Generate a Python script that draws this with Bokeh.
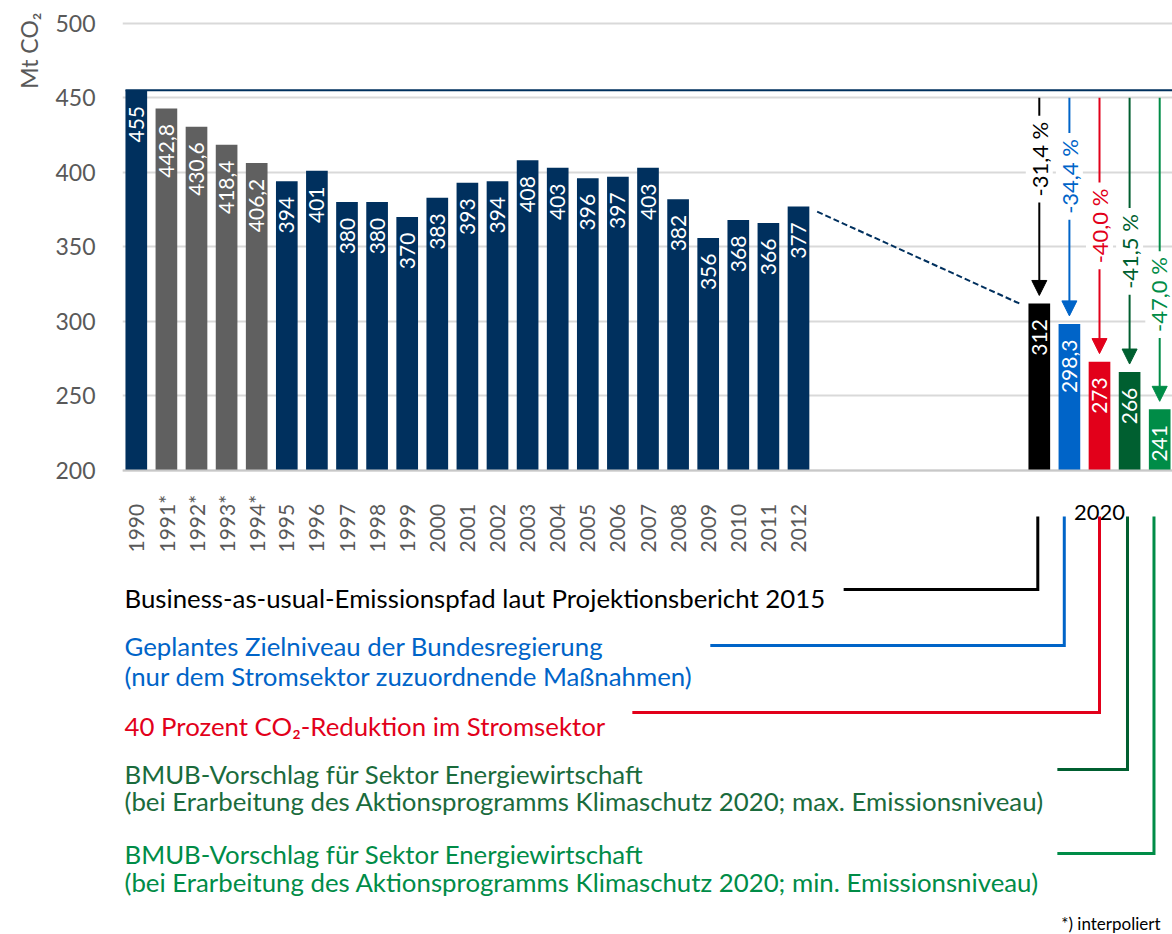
import math
from bokeh.plotting import figure
from bokeh.models import Range1d, FixedTicker, ColumnDataSource, Arrow, NormalHead, Span, Title
from bokeh.core.properties import value
from bokeh.embed import file_html
from bokeh.resources import INLINE

# ---------------- data ----------------
years = ["1990", "1991*", "1992*", "1993*", "1994*", "1995", "1996", "1997", "1998", "1999",
         "2000", "2001", "2002", "2003", "2004", "2005", "2006", "2007", "2008", "2009",
         "2010", "2011", "2012"]
emissions = [455, 442.8, 430.6, 418.4, 406.2, 394, 401, 380, 380, 370,
             383, 393, 394, 408, 403, 396, 397, 403, 382, 356,
             368, 366, 377]
interpolated = [False, True, True, True, True] + [False] * 18

scen_year = "2020"
scen_values = [312, 298.3, 273, 266, 241]
scen_pct = ["-31,4 %", "-34,4 %", "-40,0 %", "-41,5 %", "-47,0 %"]
scen_legend = [
    ["Business-as-usual-Emissionspfad laut Projektionsbericht 2015"],
    ["Geplantes Zielniveau der Bundesregierung", "(nur dem Stromsektor zuzuordnende Maßnahmen)"],
    ["40 Prozent CO₂-Reduktion im Stromsektor"],
    ["BMUB-Vorschlag für Sektor Energiewirtschaft",
     "(bei Erarbeitung des Aktionsprogramms Klimaschutz 2020; max. Emissionsniveau)"],
    ["BMUB-Vorschlag für Sektor Energiewirtschaft",
     "(bei Erarbeitung des Aktionsprogramms Klimaschutz 2020; min. Emissionsniveau)"],
]
y_ticks = [200, 250, 300, 350, 400, 450, 500]
base_value = 455
y_label = "Mt CO₂"
footnote = "*) interpoliert"

# ---------------- styles ----------------
FONT = "Lato"
NAVY = "#00305E"
GREY_BAR = "#606060"
scen_colors = ["#000000", "#0064C8", "#E2001A", "#005F30", "#008C47"]
text_grey = "#595959"

fmt = lambda v: (("%.1f" % v).replace(".", ",") if v != int(v) else str(int(v)))

# ---------------- layout ----------------
W, H = 1172, 934
LEFT = 122
K = 1.491                 # px per Mt
STEP = 30.1               # px per bar slot
FRAME_W = W - LEFT
X_FIRST = 135.8           # page x of first bar centre
x0 = -(X_FIRST - LEFT) / STEP
x_range = Range1d(x0, x0 + FRAME_W / STEP)
y_end = 200 + 470 / K
y_range = Range1d(y_end - H / K, y_end)

p = figure(width=W, height=H, x_range=x_range, y_range=y_range,
           output_backend="svg", toolbar_location=None,
           min_border_left=LEFT, min_border_right=0, min_border_top=0, min_border_bottom=0,
           x_axis_location=None)
p.outline_line_color = None
p.extra_y_ranges = {"lay": Range1d(start=H, end=0)}   # page pixels for the lower area

# y axis
yax = p.yaxis[0]
yax.ticker = FixedTicker(ticks=y_ticks)
yax.axis_line_color = None
yax.major_tick_line_color = None
yax.minor_tick_line_color = None
yax.major_tick_out = 0
yax.major_tick_in = 0
yax.major_label_standoff = 27
yax.major_label_text_font = FONT
yax.major_label_text_font_size = "23px"
yax.major_label_text_color = text_grey

p.add_layout(Title(text=y_label, align="right", offset=12, standoff=19,
                   text_font=FONT, text_font_size="23px", text_font_style="normal",
                   text_color=text_grey), "left")

p.xgrid.visible = False
p.ygrid.ticker = FixedTicker(ticks=y_ticks)
p.ygrid.grid_line_color = "#D9D9D9"
p.ygrid.grid_line_width = 2

# ---------------- bars ----------------
hx = list(range(len(years)))
hist = ColumnDataSource(dict(
    x=hx, top=emissions,
    color=[GREY_BAR if i else NAVY for i in interpolated],
    lab=[fmt(v) for v in emissions],
    laby=[v - 10.5 for v in emissions],
    year=years,
))
BW = 0.72
p.vbar(x="x", top="top", bottom=200, width=BW, fill_color="color", line_color=None, source=hist)

sx = [30 + i for i in range(len(scen_values))]
scen = ColumnDataSource(dict(
    x=sx, top=scen_values, color=scen_colors,
    lab=[fmt(v) for v in scen_values],
    laby=[v - 10.5 for v in scen_values],
))
p.vbar(x="x", top="top", bottom=200, width=BW, fill_color="color", line_color=None, source=scen)

p.add_layout(Span(location=200, dimension="width", line_color="#C8C8C8", line_width=2))

# value labels inside bars
for src in (hist, scen):
    p.text(x="x", y="laby", text="lab", source=src, angle=math.pi / 2,
           text_align="right", text_baseline="middle", text_color="white",
           text_font=value(FONT), text_font_size="21px")

# 1990 reference line
p.segment(x0=[-BW / 2], y0=[base_value], x1=[x_range.end + 1], y1=[base_value],
          line_color=NAVY, line_width=2)

# dashed trend
p.segment(x0=[hx[-1] + 0.62], y0=[emissions[-1] - 3.4], x1=[sx[0] - 0.66], y1=[scen_values[0]],
          line_color=NAVY, line_width=2, line_dash="6 3")

# arrows
for x, v, c in zip(sx, scen_values, scen_colors):
    p.add_layout(Arrow(end=NormalHead(size=15, fill_color=c, line_color=c, line_width=1),
                       x_start=x, y_start=450, x_end=x, y_end=v + 5.4,
                       line_color=c, line_width=2))

pct_y = [408.8, 397.2, 364.0, 346.9, 318.0]
pct_dx = [0, 0, 0, 0, -0.03]
pr = p.text(x=[x + d for x, d in zip(sx, pct_dx)], y=pct_y, text=scen_pct, angle=math.pi / 2,
            text_align="center", text_baseline="middle", text_color=scen_colors,
            text_font=value(FONT), text_font_size="22px",
            background_fill_color="white", padding=dict(x=6, y=0))
pr.level = "overlay"

# ---------------- x labels ----------------
p.text(x="x", y=552, text="year", source=hist, y_range_name="lay", angle=math.pi / 2,
       text_align="left", text_baseline="middle", text_color=text_grey,
       text_font=value(FONT), text_font_size="21px")
p.text(x=[sum(sx) / len(sx)], y=[512], text=[scen_year], y_range_name="lay",
       text_align="center", text_baseline="alphabetic", text_color="black",
       text_font=value(FONT), text_font_size="22px")

# ---------------- legend texts + brackets ----------------
LX = (124 - X_FIRST) / STEP
leg_base = [[597], [645, 675], [725], [773, 800], [853, 881]]
lx, ly, lt, lc = [], [], [], []
for lines, bases, c in zip(scen_legend, leg_base, scen_colors):
    for t, b in zip(lines, bases):
        lx.append(LX); ly.append(b); lt.append(t)
        lc.append("#1A6B3C" if c == "#005F30" else c)
p.text(x=lx, y=ly, text=lt, text_color=lc, y_range_name="lay",
       text_align="left", text_baseline="alphabetic",
       text_font=value(FONT), text_font_size="25.8px")

br_y = [589, 645, 712, 769, 853]
br_dx = [-0.05, -0.17, 0.0, -0.07, -0.19]
br_left = [23.5, 19.07, 16.48, 30.6, 30.6]
xs, ys = [], []
for x, dx, yl, xl in zip(sx, br_dx, br_y, br_left):
    xs.append([xl, x + dx, x + dx])
    ys.append([yl, yl, 516])
p.multi_line(xs=xs, ys=ys, line_color=scen_colors, line_width=3, y_range_name="lay",
             line_join="miter")

p.text(x=[(1160 - X_FIRST) / STEP], y=[923], text=[footnote], y_range_name="lay",
       text_align="right", text_baseline="alphabetic", text_color="black",
       text_font=value(FONT), text_font_size="17px")

open("out.html", "w").write(file_html(p, INLINE))
